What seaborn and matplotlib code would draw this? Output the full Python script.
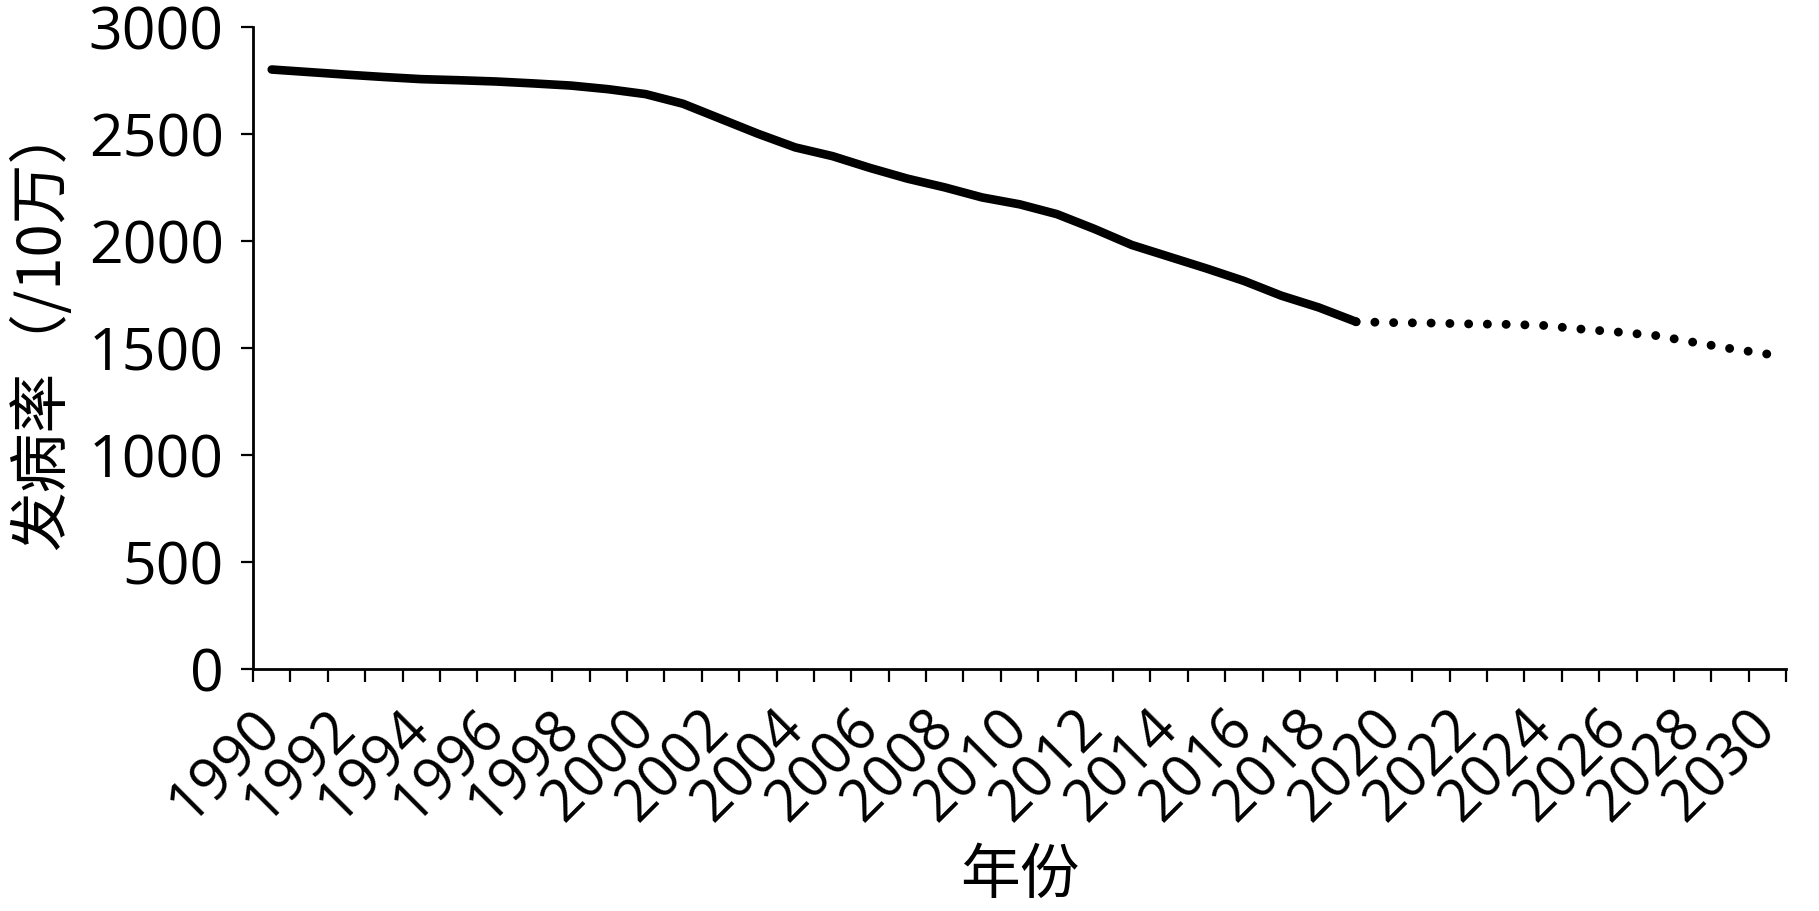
import numpy as np
import pandas as pd
import matplotlib
matplotlib.use("Agg")
import matplotlib.pyplot as plt
import seaborn as sns

# ---- data ----
years_hist = [1990, 1991, 1992, 1993, 1994, 1995, 1996, 1997, 1998, 1999,
              2000, 2001, 2002, 2003, 2004, 2005, 2006, 2007, 2008, 2009,
              2010, 2011, 2012, 2013, 2014, 2015, 2016, 2017, 2018, 2019]
rate_hist = [2800, 2788, 2776, 2765, 2755, 2750, 2744, 2735, 2725, 2708,
             2685, 2640, 2570, 2500, 2436, 2395, 2340, 2290, 2249, 2202,
             2170, 2124, 2055, 1980, 1925, 1870, 1812, 1743, 1688, 1621]
years_proj = [2019, 2020, 2021, 2022, 2023, 2024, 2025, 2026, 2027, 2028, 2029, 2030]
rate_proj = [1621, 1617, 1615, 1611, 1609, 1604, 1587, 1573, 1557, 1526, 1496, 1470]
tick_years = list(range(1990, 2031, 2))
y_ticks = [0, 500, 1000, 1500, 2000, 2500, 3000]
x_title = "年份"
y_title = "发病率（/10万）"

df_hist = pd.DataFrame({"year": years_hist, "rate": rate_hist})
df_proj = pd.DataFrame({"year": years_proj, "rate": rate_proj})

sns.set_style("ticks")
plt.rcParams["font.family"] = ["Open Sans", "Noto Sans CJK SC", "DejaVu Sans"]
for key in ["text.color", "axes.labelcolor", "xtick.color", "ytick.color", "axes.edgecolor"]:
    plt.rcParams[key] = "black"

fig = plt.figure(figsize=(18.19, 9.12), dpi=100)
ax = fig.add_axes([0.1391, 0.2658, 0.9819 - 0.1391, 0.9696 - 0.2658])

sns.lineplot(data=df_hist, x="year", y="rate", ax=ax, color="black",
             linewidth=6.2, solid_capstyle="round")
sns.lineplot(data=df_proj, x="year", y="rate", ax=ax, color="black",
             linewidth=6.4, linestyle=(0, (0.01, 2.1)), dash_capstyle="round")

ax.set_xlim(1989.5, 2030.5)
ax.set_ylim(0, 3000)
ax.set_yticks(y_ticks)
ax.set_yticklabels([str(v) for v in y_ticks])

ax.set_xticks(tick_years)
ax.set_xticklabels([str(y) for y in tick_years], rotation=45, ha="right",
                   va="center", rotation_mode="anchor")
ax.set_xticks(np.arange(1989.5, 2031.0, 1.0), minor=True)
ax.tick_params(axis="x", which="major", length=0, pad=36, labelsize=41.5)
ax.tick_params(axis="x", which="minor", length=9, width=1.6, direction="out")
ax.tick_params(axis="y", which="major", length=9, width=1.6, direction="out",
               pad=12, labelsize=42.5)

for side in ["top", "right"]:
    ax.spines[side].set_visible(False)
for side in ["left", "bottom"]:
    ax.spines[side].set_linewidth(2)
    ax.spines[side].set_color("black")

ax.set_xlabel(x_title, fontsize=43, family=["Noto Sans CJK SC", "DejaVu Sans"])
ax.set_ylabel(y_title, fontsize=43, family=["Noto Sans CJK SC", "DejaVu Sans"])
ax.xaxis.set_label_coords(0.5, -0.275)
ax.yaxis.set_label_coords(-0.117, 0.535)

fig.savefig("out.png", dpi=100, facecolor="white")
